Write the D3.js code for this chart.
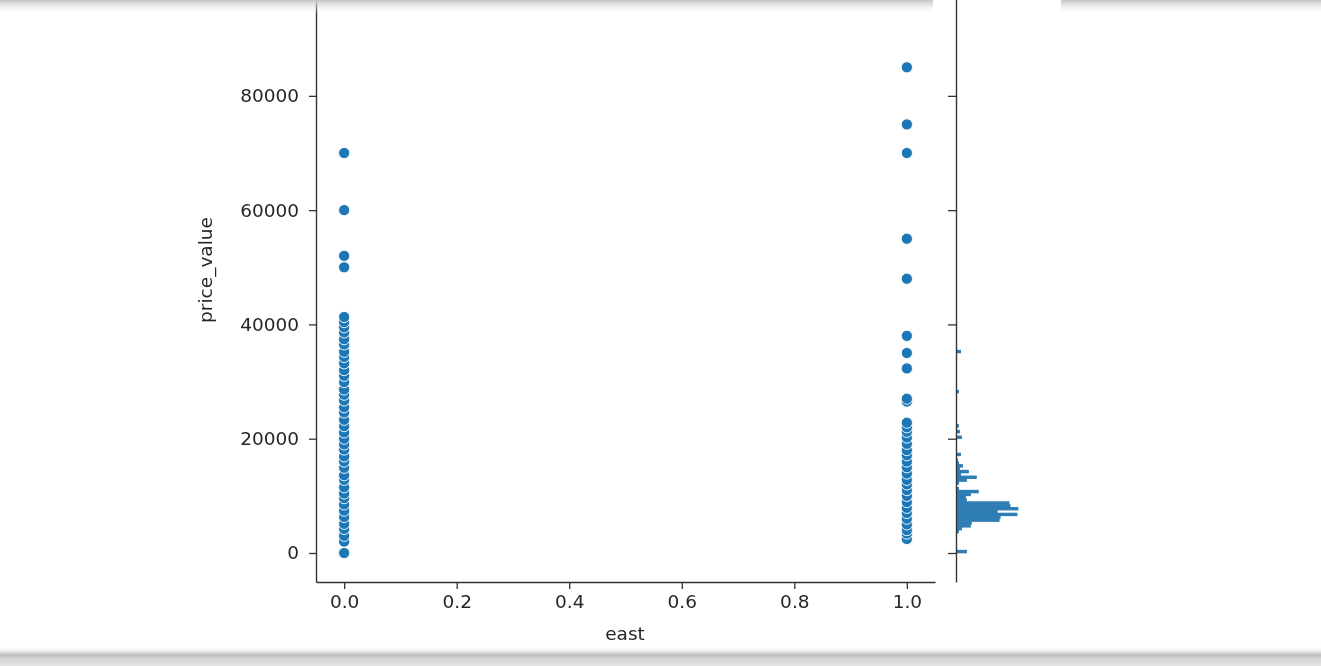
<!DOCTYPE html>
<html>
<head>
<meta charset="utf-8">
<script src="https://cdn.jsdelivr.net/npm/d3@7"></script>
<style>
  html, body { margin: 0; padding: 0; background: #fff; }
  svg { display: block; }
  text { font-family: "DejaVu Sans", sans-serif; fill: #262626; }
</style>
</head>
<body>
<div id="chart"></div>
<script>
// scatter: price_value per east group
const eastZero = [
  0, 2000, 3000, 4200, 5100, 6300, 7400, 8500, 9600, 10400, 11500, 12800,
  13600, 14900, 16000, 16900, 18100, 19000, 20000, 21100, 22200, 23300, 24600,
  25500, 26700, 27700, 28600, 29900, 31000, 32000, 33200, 34300, 35200, 36500,
  37400, 38600, 39500, 40400, 41300,
  50000, 52000, 60000, 70000
];
const eastOne = [
  2450, 3400, 4000, 5000, 6000, 7000, 7900, 8900, 10000, 11000, 12000, 12800,
  13900, 15000, 16000, 17100, 18000, 19100, 20200, 21200, 22000, 22800, 26500,
  27000, 32300, 35000, 38000, 48000, 55000, 70000, 75000, 85000
];

// marginal histogram of price_value: [bin start, count], bin width 500
const binWidth = 500;
const histBins = [
  [0, 11], [3000, 1], [3500, 3], [4000, 6], [4500, 15], [5000, 16], [5500, 44],
  [6000, 45], [6500, 62], [7000, 42], [7500, 63], [8000, 55], [8500, 54],
  [9000, 11], [9500, 10], [10000, 15], [10500, 23], [11000, 3], [12000, 3],
  [12500, 11], [13000, 21], [13500, 5], [14000, 13], [14500, 4], [15000, 7],
  [15500, 3], [16000, 2], [17000, 5], [18500, 1], [20000, 6], [21000, 4],
  [22000, 3], [27000, 1], [28000, 3], [29000, 1], [32500, 1], [35000, 5]
];

const yTicks = [0, 20000, 40000, 60000, 80000];
const xTicks = [0, 0.2, 0.4, 0.6, 0.8, 1.0];

const width = 1321, height = 666;
const svg = d3.select("#chart").append("svg")
  .attr("width", width).attr("height", height);

const defs = svg.append("defs");
defs.append("filter").attr("id", "soft")
  .append("feGaussianBlur").attr("stdDeviation", 0.45);

const chart = svg.append("g").attr("filter", "url(#soft)");

const x = d3.scaleLinear().domain([-0.05, 1.05]).range([316, 935]);
const y = d3.scaleLinear().domain([-5075, 106575]).range([582, -56]);
const hx = d3.scaleLinear().domain([0, 105]).range([956, 1060]);

// joint scatter
const points = eastZero.map(v => [0, v]).concat(eastOne.map(v => [1, v]));
chart.append("g").selectAll("circle")
  .data(points)
  .join("circle")
  .attr("cx", d => x(d[0]))
  .attr("cy", d => y(d[1]))
  .attr("r", 5.6)
  .attr("fill", "#1f77b4")
  .attr("stroke", "#fff")
  .attr("stroke-width", 0.9);

// marginal histogram (slight overlap so neighbouring bins read as one block)
chart.append("g").selectAll("rect")
  .data(histBins)
  .join("rect")
  .attr("x", hx(0))
  .attr("y", d => y(d[0] + binWidth) - 0.3)
  .attr("width", d => hx(d[1]) - hx(0))
  .attr("height", d => y(d[0]) - y(d[0] + binWidth) + 0.6)
  .attr("fill", "#2f7db5");

function styleAxis(g) {
  g.select(".domain").attr("stroke", "#333").attr("stroke-width", 1.4);
  g.selectAll(".tick line").attr("stroke", "#333").attr("stroke-width", 1.3);
  g.selectAll(".tick text").style("font-size", "18.5px").attr("fill", "#262626");
}

const xAxis = chart.append("g")
  .attr("transform", "translate(0,582)")
  .call(d3.axisBottom(x).tickValues(xTicks).tickFormat(d3.format(".1f"))
    .tickSizeInner(7).tickSizeOuter(0).tickPadding(6));
styleAxis(xAxis);

const yAxis = chart.append("g")
  .attr("transform", "translate(316,0)")
  .call(d3.axisLeft(y).tickValues(yTicks).tickFormat(d3.format("d"))
    .tickSizeInner(7).tickSizeOuter(0).tickPadding(10));
styleAxis(yAxis);

const margAxis = chart.append("g")
  .attr("transform", "translate(956,0)")
  .call(d3.axisLeft(y).tickValues(yTicks).tickFormat("")
    .tickSizeInner(8).tickSizeOuter(0));
styleAxis(margAxis);

chart.append("text")
  .attr("x", 625).attr("y", 640)
  .attr("text-anchor", "middle")
  .style("font-size", "18.5px")
  .text("east");

chart.append("text")
  .attr("transform", "translate(212,270) rotate(-90)")
  .attr("text-anchor", "middle")
  .style("font-size", "18.5px")
  .text("price_value");

// notebook scroll shadows
const topGrad = defs.append("linearGradient").attr("id", "topShadow")
  .attr("x1", 0).attr("y1", 0).attr("x2", 0).attr("y2", 1);
topGrad.append("stop").attr("offset", "0%").attr("stop-color", "#c4c4c4");
topGrad.append("stop").attr("offset", "100%").attr("stop-color", "#fff").attr("stop-opacity", 0);
const botGrad = defs.append("linearGradient").attr("id", "botShadow")
  .attr("x1", 0).attr("y1", 0).attr("x2", 0).attr("y2", 1);
botGrad.append("stop").attr("offset", "0%").attr("stop-color", "#fff").attr("stop-opacity", 0);
botGrad.append("stop").attr("offset", "45%").attr("stop-color", "#bdbdbd");
botGrad.append("stop").attr("offset", "65%").attr("stop-color", "#d6d6d6");
botGrad.append("stop").attr("offset", "100%").attr("stop-color", "#e4e4e4");

svg.append("rect").attr("x", 0).attr("y", 0).attr("width", 933).attr("height", 14)
  .attr("fill", "url(#topShadow)");
svg.append("rect").attr("x", 1061).attr("y", 0).attr("width", 260).attr("height", 14)
  .attr("fill", "url(#topShadow)");
svg.append("rect").attr("x", 0).attr("y", 646).attr("width", width).attr("height", 20)
  .attr("fill", "url(#botShadow)");
</script>
</body>
</html>
